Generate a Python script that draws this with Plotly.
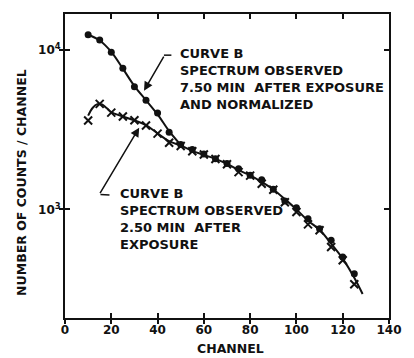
import plotly.graph_objects as go

# ---- data ----
channels = [10, 15, 20, 25, 30, 35, 40, 45, 50, 55, 60, 65, 70, 75, 80, 85, 90, 95, 100, 105, 110, 115, 120, 125]
counts_750 = [12500, 11600, 9700, 7700, 5900, 4850, 4030, 3050, 2560, 2380, 2230, 2080, 1940, 1800, 1640, 1535,
              1340, 1130, 1025, 875, 757, 640, 502, 395]
counts_250 = [3620, 4600, 4050, 3830, 3630, 3360, 2990, 2620, 2500, 2320, 2210, 2070, 1920, 1715, 1630, 1450,
              1327, 1110, 962, 805, 740, 581, 479, 339]

# smooth curves drawn through the points
fit_a_ch = [10, 15, 20, 25, 30, 35, 40, 45, 50]
fit_a_val = [12500, 11500, 9750, 7650, 5950, 4850, 3950, 3100, 2540]
fit_b_ch = [10, 12, 14, 16, 18, 20, 25, 30, 35, 40, 45, 50]
fit_b_val = [3880, 4350, 4580, 4560, 4330, 4080, 3830, 3620, 3380, 3000, 2680, 2520]
fit_c_ch = [50, 55, 60, 65, 70, 75, 80, 85, 90, 95, 100, 105, 110, 115, 120, 125, 128.6]
fit_c_val = [2520, 2330, 2200, 2075, 1930, 1765, 1633, 1486, 1334, 1160, 1000, 850, 745, 610, 491, 372, 294]

x_ticks = [0, 20, 40, 60, 80, 100, 120, 140]
y_ticks = [1000, 10000]
y_ticktext = ["10<sup>3</sup>", "10<sup>4</sup>"]

NB = "\u00a0"
label_top = "CURVE B<br>SPECTRUM OBSERVED<br>7.50 MIN" + NB + NB + "AFTER EXPOSURE<br>AND NORMALIZED"
label_bottom = "CURVE B<br>SPECTRUM OBSERVED<br>2.50 MIN" + NB + NB + "AFTER<br>EXPOSURE"
x_title = "CHANNEL"
y_title = "NUMBER OF COUNTS / CHANNEL"

FONT = "DejaVu Sans"
BLACK = "#111111"

fig = go.Figure()
for cx, cy in [(fit_a_ch, fit_a_val), (fit_b_ch, fit_b_val), (fit_c_ch, fit_c_val)]:
    fig.add_trace(go.Scatter(x=cx, y=cy, mode="lines", line=dict(color=BLACK, width=2, shape="spline"),
                             showlegend=False, hoverinfo="skip"))
fig.add_trace(go.Scatter(x=channels, y=counts_250, mode="markers",
                         marker=dict(symbol="x-thin", size=8, line=dict(color=BLACK, width=2)),
                         showlegend=False))
fig.add_trace(go.Scatter(x=channels, y=counts_750, mode="markers",
                         marker=dict(symbol="circle", size=7, color=BLACK),
                         showlegend=False))
# invisible trace for overlay axes (outer tick halves)
fig.add_trace(go.Scatter(x=[None], y=[None], xaxis="x2", yaxis="y2", showlegend=False, hoverinfo="skip"))

yr = [2.318, 4.227]
tickfont = dict(family=FONT, size=12, color=BLACK, weight="bold")
fig.update_layout(
    width=414, height=358,
    margin=dict(l=65, r=14, t=13, b=40),
    paper_bgcolor="white", plot_bgcolor="white",
    xaxis=dict(range=[0, 140], tickvals=x_ticks, ticks="inside", ticklen=5, tickwidth=2, tickcolor=BLACK,
               showline=True, linewidth=2, linecolor=BLACK, mirror="ticks", showgrid=False, zeroline=False,
               tickfont=tickfont),
    yaxis=dict(type="log", range=yr, tickvals=y_ticks, ticktext=y_ticktext, ticks="inside", ticklen=5,
               tickwidth=2, tickcolor=BLACK, showline=True, linewidth=2, linecolor=BLACK, mirror="ticks",
               showgrid=False, zeroline=False, tickfont=tickfont),
    xaxis2=dict(overlaying="x", matches="x", range=[0, 140], tickvals=x_ticks, ticks="outside", ticklen=5,
                tickwidth=2, tickcolor=BLACK, showticklabels=False, showline=False, showgrid=False,
                zeroline=False),
    yaxis2=dict(overlaying="y", type="log", range=yr, tickvals=y_ticks, ticks="outside", ticklen=5,
                tickwidth=2, tickcolor=BLACK, showticklabels=False, showline=False, showgrid=False,
                zeroline=False),
    showlegend=False,
)

def px_x(p):
    return (p - 65) / 335.0

def px_y(p):
    return (318 - p) / 305.0

textfont = dict(family=FONT, size=13, color=BLACK, weight="bold")
fig.add_annotation(text=label_top, xref="paper", yref="paper", x=px_x(182), y=px_y(78),
                   xanchor="left", yanchor="middle", align="left", showarrow=False, font=textfont)
fig.add_annotation(text=label_bottom, xref="paper", yref="paper", x=px_x(120), y=px_y(219),
                   xanchor="left", yanchor="middle", align="left", showarrow=False, font=textfont)
fig.add_annotation(text=x_title, xref="paper", yref="paper", x=px_x(236), y=px_y(349),
                   xanchor="center", yanchor="middle", showarrow=False,
                   font=dict(family=FONT, size=12.5, color=BLACK, weight="bold"))
fig.add_annotation(text=y_title, xref="paper", yref="paper", x=px_x(20), y=px_y(182),
                   xanchor="center", yanchor="middle", textangle=-90, showarrow=False,
                   font=dict(family=FONT, size=12.5, color=BLACK, weight="bold"))

# leader arrows
fig.add_annotation(text="", xref="paper", yref="paper", x=px_x(146.7), y=px_y(90), ax=20.6, ay=-35.7,
                   showarrow=True, arrowhead=2, arrowsize=1.2, arrowwidth=1.5, arrowcolor=BLACK)
fig.add_annotation(text="", xref="paper", yref="paper", x=px_x(141.7), y=px_y(127), ax=-40, ay=67,
                   showarrow=True, arrowhead=2, arrowsize=1.2, arrowwidth=1.5, arrowcolor=BLACK)
fig.add_shape(type="line", xref="paper", yref="paper", x0=px_x(167.3), y0=px_y(54.3), x1=px_x(175), y1=px_y(54.3),
              line=dict(color=BLACK, width=1.5))
fig.add_shape(type="line", xref="paper", yref="paper", x0=px_x(101.7), y0=px_y(194), x1=px_x(111), y1=px_y(194.5),
              line=dict(color=BLACK, width=1.5))

fig.write_html("out.html")
